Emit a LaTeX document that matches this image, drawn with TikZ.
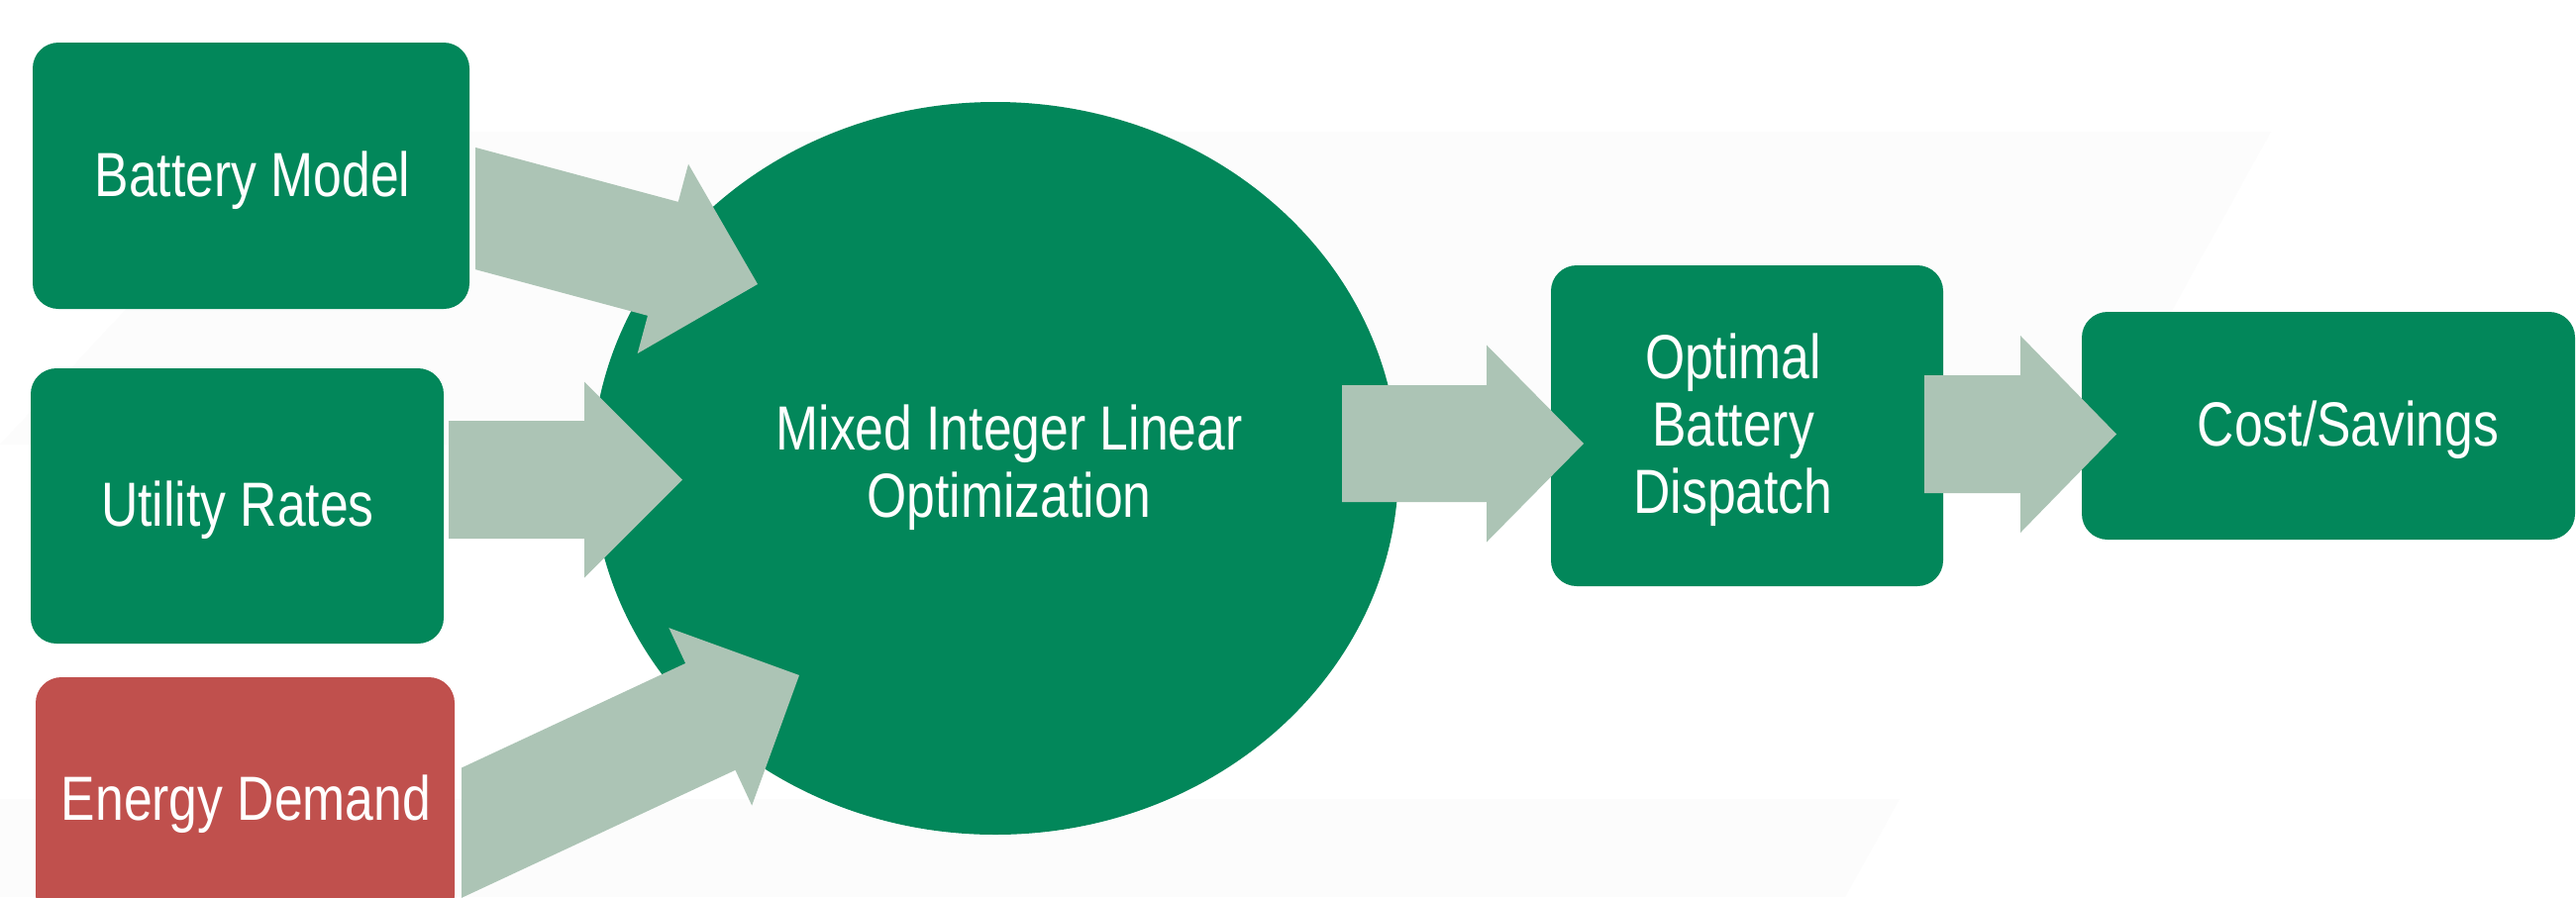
\documentclass[tikz,border=0pt]{standalone}
\usepackage{fontspec}
\setmainfont{Liberation Sans}[FakeStretch=0.82]
\usetikzlibrary{calc,shapes.geometric}

\definecolor{boxgreen}{RGB}{2,135,90}
\definecolor{boxred}{RGB}{192,80,77}
\definecolor{flowgray}{RGB}{172,196,181}
\definecolor{haze}{RGB}{252,252,252}

% Block arrow: #1 tail, #2 tip, #3 shaft half width, #4 head half width, #5 head length
\newcommand\blockarrow[5]{%
  \path ($(#2)!#5!(#1)$) coordinate (hb);
  \fill[arrowfill] ($(#1)!#3!90:(#2)$) -- ($(hb)!#3!90:(#2)$) -- ($(hb)!#4!90:(#2)$)
    -- (#2) -- ($(hb)!#4!-90:(#2)$) -- ($(hb)!#3!-90:(#2)$) -- ($(#1)!#3!-90:(#2)$) -- cycle;}

\begin{document}
\begin{tikzpicture}[x=0.5pt,y=-0.5pt,
  box/.style={rectangle, rounded corners=13pt, fill=boxgreen, inner sep=0pt},
  lbl/.style={text=white, font=\fontsize{31.5}{34}\selectfont, align=center,
              anchor=base, inner sep=0pt},
  arrowfill/.style={fill=flowgray}]

\useasboundingbox (0,0) rectangle (2601,906);
\clip (0,0) rectangle (2601,906);
\fill[white] (0,0) rectangle (2601,906);

% faint backdrop
\fill[haze] (294,133) -- (2293,133) -- (2118,449) -- (0,449) -- cycle;
\fill[haze] (0,807) -- (1918,807) -- (1863,906) -- (0,906) -- cycle;

% input boxes
\node[box, minimum width=220.5pt, minimum height=134.5pt] (bm) at (253.5,177.5) {};
\node[box, minimum width=208.5pt, minimum height=139pt] (ur) at (239.5,511) {};
\node[box, fill=boxred, minimum width=211.5pt, minimum height=123pt] (ed) at (247.5,807) {};

% optimizer
\node[ellipse, fill=boxgreen, inner sep=0pt, minimum width=407pt, minimum height=370pt] (mil) at (1005,473) {};

% outputs
\node[box, minimum width=198pt, minimum height=162pt] (obd) at (1764,430) {};
\node[box, minimum width=249pt, minimum height=115pt] (cs) at (2351,430) {};

% labels (multi-line labels sit on the baseline of their last line)
\node[lbl] (tbm) at (255,198) {Battery Model};
\node[lbl] (tur) at (240,531) {Utility Rates};
\node[lbl] (ted) at (248.5,828) {Energy Demand};
\node[lbl] (tmil) at (1019,522) {Mixed Integer Linear\\Optimization};
\node[lbl] (tobd) at (1750,518) {Optimal\\Battery\\Dispatch};
\node[lbl] (tcs) at (2371,450) {Cost/Savings};

% arrow ends
\coordinate (a1s) at (440,199.8);
\coordinate (a1t) at (765,287);
\coordinate (a2s) at (453,484.5);
\coordinate (a2t) at (689,484.5);
\coordinate (a3s) at (430,858);
\coordinate (a3t) at (807,682);
\coordinate (a4s) at (1355,448);
\coordinate (a4t) at (1599,448);
\coordinate (a5s) at (1943,438.5);
\coordinate (a5t) at (2137,438.5);

% flow arrows
\begin{scope}
  \clip (480,0) rectangle (2601,906);
  \blockarrow{a1s}{a1t}{29.75pt}{49.5pt}{49.5pt}
\end{scope}
\blockarrow{a2s}{a2t}{29.75pt}{49.5pt}{49.5pt}
\begin{scope}
  \clip (466,0) rectangle (2601,906);
  \blockarrow{a3s}{a3t}{29.75pt}{49.5pt}{49.5pt}
\end{scope}
\blockarrow{a4s}{a4t}{29.5pt}{49.75pt}{49pt}
\blockarrow{a5s}{a5t}{29.75pt}{49.75pt}{48.5pt}

\end{tikzpicture}
\end{document}
